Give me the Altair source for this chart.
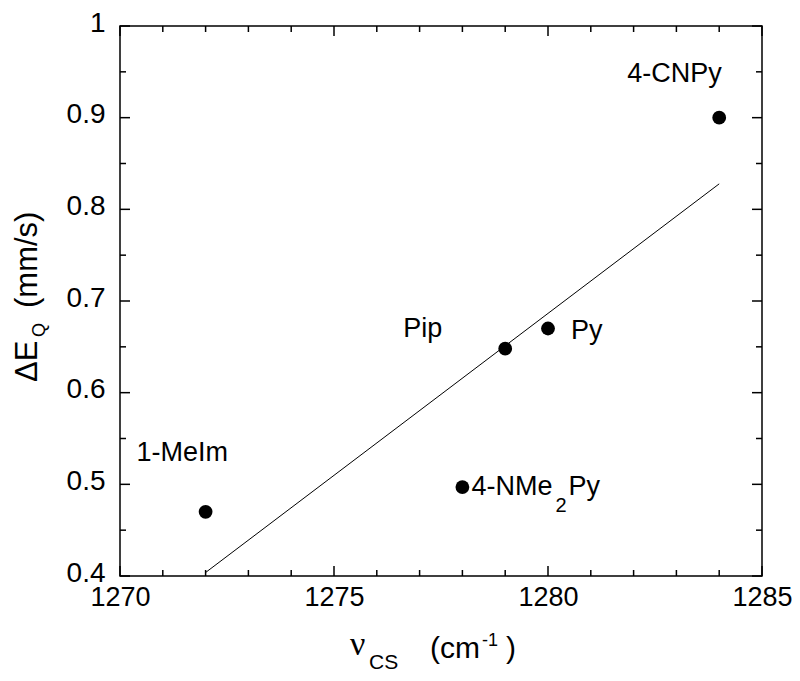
import altair as alt
import pandas as pd

# ---- data ----
names = ["1-MeIm", "4-NMe2Py", "Pip", "Py", "4-CNPy"]
nu_cs = [1272, 1278, 1279, 1280, 1284]
delta_eq = [0.47, 0.497, 0.648, 0.67, 0.90]

x_major = [1270, 1275, 1280, 1285]
x_minor = [1271, 1272, 1273, 1274, 1276, 1277, 1278, 1279, 1281, 1282, 1283, 1284]
y_major = [0.4, 0.5, 0.6, 0.7, 0.8, 0.9, 1.0]
y_minor = [0.45, 0.55, 0.65, 0.75, 0.85, 0.95]

FONT = "Liberation Sans"
W, H = 642, 550
MAJ, MIN = 10, 6

df = pd.DataFrame({"name": names, "x": nu_cs, "y": delta_eq})
xs = alt.Scale(domain=[1270, 1285], nice=False, zero=False)
ys = alt.Scale(domain=[0.4, 1.0], nice=False, zero=False)


def xax():
    return alt.Axis(values=x_major, format="d", title=None, ticks=False, tickSize=0,
                    domain=False, grid=False, labelFontSize=27, labelFont=FONT,
                    labelColor="black", labelPadding=8, labelFlush=False,
                    labelOverlap=False)


def yax():
    return alt.Axis(values=y_major, format=".1~f", title=None, ticks=False, tickSize=0,
                    domain=False, grid=False, labelFontSize=28, labelFont=FONT,
                    labelColor="black", labelPadding=15, labelOffset=-3,
                    labelFlush=False, labelOverlap=False)


def X():
    return alt.X("x:Q", scale=xs, axis=xax(), title=None)


def Y():
    return alt.Y("y:Q", scale=ys, axis=yax(), title=None)


points = alt.Chart(df).mark_circle(size=190, color="black", opacity=1).encode(x=X(), y=Y())

fit = alt.Chart(df).transform_regression("x", "y").mark_line(
    color="black", strokeWidth=1
).encode(x=X(), y=Y())


def xticks(vals, length):
    d = pd.DataFrame({"x": vals})
    b = alt.Chart(d).mark_rule(color="black", strokeWidth=1.5).encode(
        x=X(), y=alt.value(H), y2=alt.value(H - length))
    t = alt.Chart(d).mark_rule(color="black", strokeWidth=1.5).encode(
        x=X(), y=alt.value(0), y2=alt.value(length))
    return [b, t]


def yticks(vals, length):
    d = pd.DataFrame({"y": vals})
    l = alt.Chart(d).mark_rule(color="black", strokeWidth=1.5).encode(
        y=Y(), x=alt.value(0), x2=alt.value(length))
    r = alt.Chart(d).mark_rule(color="black", strokeWidth=1.5).encode(
        y=Y(), x=alt.value(W), x2=alt.value(W - length))
    return [l, r]


ticks = xticks(x_major, MAJ) + xticks(x_minor, MIN) + yticks(y_major, MAJ) + yticks(y_minor, MIN)


def label(name, text, dx, dy, size=27):
    return alt.Chart(df).transform_filter(alt.datum.name == name).mark_text(
        align="left", baseline="alphabetic", dx=dx, dy=dy,
        fontSize=size, font=FONT, color="black"
    ).encode(x=X(), y=Y(), text=alt.value(text))


labels = [
    label("1-MeIm", "1-MeIm", -69, -51),
    label("Pip", "Pip", -102, -12),
    label("Py", "Py", 23, 10),
    label("4-NMe2Py", "4-NMe", 9, 8),
    label("4-NMe2Py", "2", 93, 25, 20),
    label("4-NMe2Py", "Py", 106, 8),
    label("4-CNPy", "4-CNPy", -92, -36),
]

one = alt.Data(values=[{"k": 1}])


def txt(text, x, y, size, angle=0, font=FONT):
    kw = dict(align="left", baseline="alphabetic", fontSize=size, font=font, color="black")
    if angle:
        kw["angle"] = angle
    return alt.Chart(one).mark_text(**kw).encode(
        x=alt.value(x), y=alt.value(y), text=alt.value(text))


titles = [
    # y title, rotated
    txt("ΔE", -83, 356, 31, 270),
    txt("Q", -75, 311, 18, 270),
    txt("(mm/s)", -83, 282, 31, 270),
    # x title
    txt("ν", 230, 629, 34, font="Liberation Serif"),
    txt("CS", 249, 643, 21),
    txt("(cm", 310, 632, 30),
    txt("-1", 362, 620, 18),
    txt(")", 386, 632, 30),
]

chart = alt.layer(points, fit, *ticks, *labels, *titles).properties(
    width=W, height=H,
    autosize=alt.AutoSizeParams(type="none"),
    padding={"left": 112, "top": 18, "right": 30, "bottom": 97},
).configure_view(stroke="black", strokeWidth=1.5)

chart.save("out.html", embed_options={"renderer": "svg", "actions": False})
